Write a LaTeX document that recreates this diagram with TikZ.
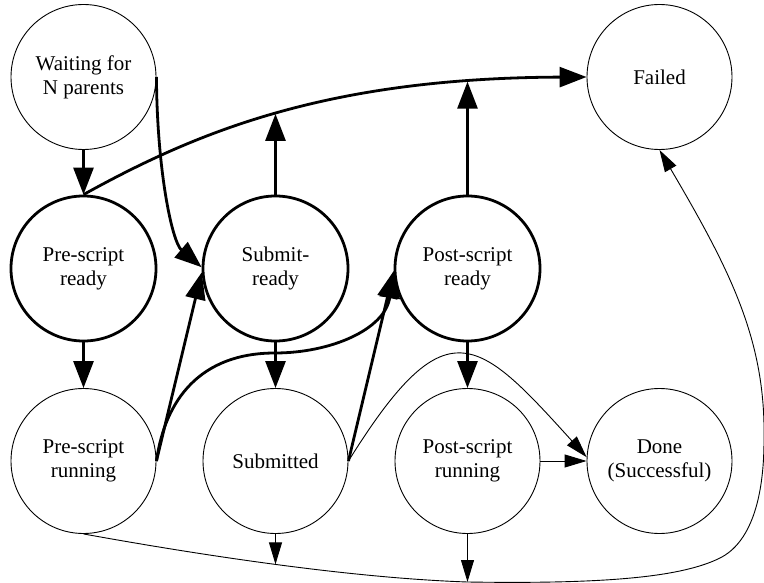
\documentclass[tikz,border=0pt]{standalone}
\usepackage{fontspec}
\setmainfont{Liberation Serif}
\usetikzlibrary{arrows.meta}
\begin{document}
\begin{tikzpicture}[x=1pt,y=-1pt,
  state/.style={circle, draw, line width=0.9pt, minimum size=145pt, inner sep=0pt,
    align=center, font=\fontsize{21}{24}\selectfont},
  active/.style={state, line width=2.8pt},
  heavy/.style={line width=2.8pt, -{Triangle[length=27pt,width=20pt]}},
  light/.style={line width=0.9pt, -{Triangle[length=22pt,width=13pt]}},
]
\useasboundingbox (0,0) rectangle (764,583);

% job states
\node[state]  (wait)    at (83.5,77)    {Waiting for\\N parents};
\node[state]  (fail)    at (659.5,77)   {Failed};
\node[active] (prerdy)  at (83.5,268.5) {Pre-script\\ready};
\node[active] (subrdy)  at (275.5,268.5){Submit-\\ready};
\node[active] (postrdy) at (467.5,268.5){Post-script\\ready};
\node[state]  (prerun)  at (83.5,461)   {Pre-script\\running};
\node[state]  (subm)    at (275.5,461)  {Submitted};
\node[state]  (postrun) at (467.5,461)  {Post-script\\running};
\node[state]  (done)    at (659.5,461)  {Done\\(Successful)};

% transitions into the failed state along the top
\draw[heavy] (prerdy.north) .. controls (200,130) and (330,78) .. (fail.west)
  coordinate[pos=0.485] (m1) coordinate[pos=0.832] (m2);
\draw[heavy] (subrdy.north) -- (subrdy.north |- m1);
\draw[heavy] (postrdy.north) -- (postrdy.north |- m2);

% main flow
\draw[heavy] (wait) -- (prerdy);
\draw[heavy] (wait.east) .. controls (157,170) and (172,242) .. (subrdy.179);
\draw[heavy] (prerdy) -- (prerun);
\draw[heavy] (prerun.east) -- (subrdy.183);
\draw[heavy] (prerun.east) .. controls (165,400) and (200,353) .. (275,353)
  .. controls (330,353) and (385,330) .. (postrdy.182);
\draw[heavy] (subrdy) -- (subm);
\draw[heavy] (subm.east) -- (postrdy.182);
\draw[heavy] (postrdy) -- (postrun);
\draw[light] (subm.east) .. controls (446,304.5) and (477,336) .. (done.177);
\draw[light] (postrun) -- (done);

% failure path along the bottom and right side
\draw[light] (prerun.south) .. controls (200,555) and (350,578) .. (467.5,582)
  coordinate[pos=0.5] (b1) coordinate (b2)
  .. controls (600,584) and (680,578) .. (720,558)
  .. controls (750,543) and (764,500) .. (764,440)
  .. controls (766,340) and (730,270) .. (fail.south);
\draw[light] (subm.south) -- (subm.south |- b1);
\draw[light] (postrun) -- (b2);
\end{tikzpicture}
\end{document}
